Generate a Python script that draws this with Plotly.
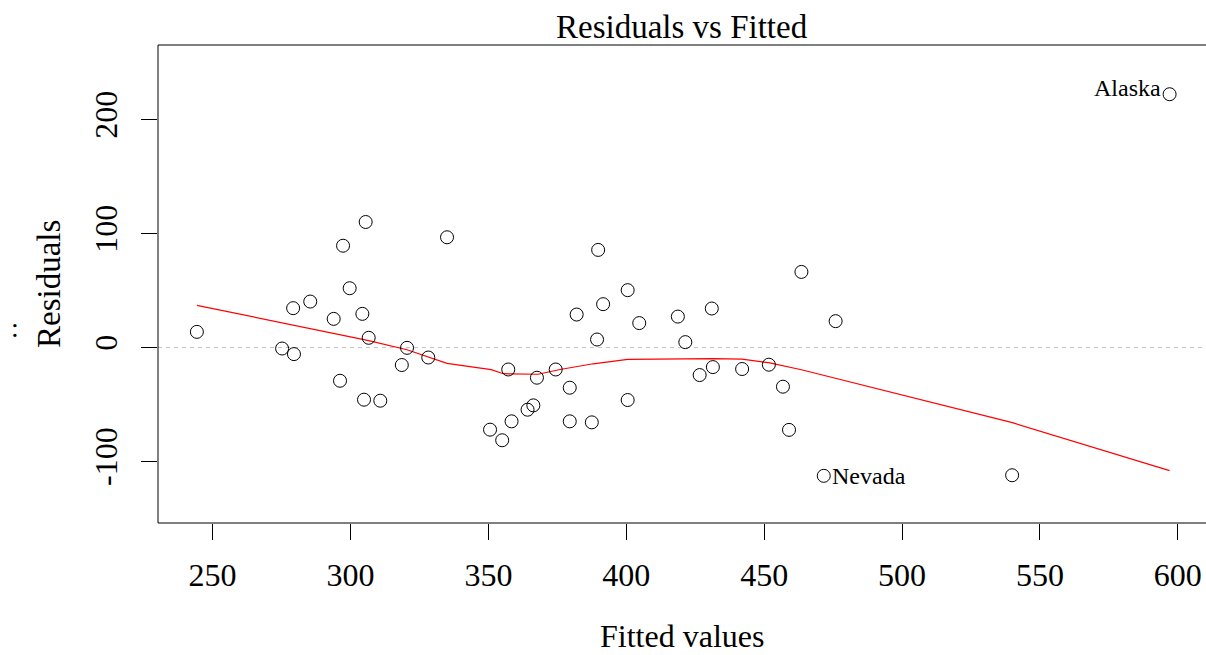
import plotly.graph_objects as go

# Fitted values and residuals of the linear model (one per state)
fitted = [244.3, 275.2, 279.5, 279.2, 285.4, 293.9, 297.3, 296.2, 299.7, 305.5,
          304.3, 306.6, 304.9, 310.8, 335.0, 320.5, 318.6, 328.2, 350.6, 355.0,
          358.4, 357.2, 364.2, 366.3, 367.6, 374.4, 379.5, 379.5, 382.0, 387.5,
          389.8, 389.4, 391.6, 400.5, 400.5, 404.7, 418.7, 421.4, 426.6, 431.0,
          431.4, 442.0, 451.7, 456.8, 459.0, 463.5, 475.9, 471.6, 539.9, 597.0]
residuals = [13.7, -0.9, -5.8, 34.5, 40.3, 25.1, 89.3, -29.2, 52.0, 110.1,
             29.5, 8.5, -45.8, -46.7, 96.7, -0.3, -15.4, -8.8, -72.1, -81.4,
             -64.8, -19.3, -54.6, -50.8, -26.5, -19.3, -35.3, -64.8, 28.9, -65.7,
             85.6, 7.0, 38.0, 50.3, -46.1, 21.4, 27.1, 4.7, -24.2, 34.2,
             -17.2, -18.9, -15.1, -34.4, -72.3, 66.3, 23.1, -112.6, -112.1, 222.2]

# Lowess smoother through the residuals
smooth_x = [244.3, 306.6, 320.5, 335.0, 351.0, 355.4, 368.0, 376.0, 388.0,
            400.5, 431.4, 442.0, 452.0, 463.5, 540.0, 597.0]
smooth_y = [37.0, 6.0, -2.0, -14.0, -19.5, -23.0, -23.5, -19.3, -14.3,
            -10.5, -9.8, -10.3, -13.5, -19.5, -66.0, -108.0]

# Labelled outliers
alaska = (597.0, 222.2)
nevada = (471.6, -112.6)

x_ticks = [250, 300, 350, 400, 450, 500, 550, 600]
y_ticks = [-100, 0, 100, 200]
y_tick_text = ["-100", "0", "100", "200"]

FONT = "Liberation Serif"

fig = go.Figure()

fig.add_hline(y=0, line=dict(color="#c4c4c4", width=1, dash="4px,4px"), layer="below")

fig.add_trace(go.Scatter(
    x=smooth_x, y=smooth_y, mode="lines",
    line=dict(color="#ff0000", width=1.2), hoverinfo="skip"))

fig.add_trace(go.Scatter(
    x=fitted, y=residuals, mode="markers",
    marker=dict(symbol="circle-open", size=13, color="black",
                line=dict(width=1, color="black"))))

fig.add_annotation(x=alaska[0], y=alaska[1], text="Alaska", showarrow=False,
                   xanchor="right", yanchor="middle", xshift=-7, yshift=6,
                   font=dict(family=FONT, size=24, color="black"))
fig.add_annotation(x=nevada[0], y=nevada[1], text="Nevada", showarrow=False,
                   xanchor="left", yanchor="middle", xshift=6, yshift=0,
                   font=dict(family=FONT, size=24, color="black"))

# Title and axis titles
fig.add_annotation(x=0.5, y=1.0377, xref="paper", yref="paper",
                   text="Residuals vs Fitted", showarrow=False,
                   xanchor="center", yanchor="middle",
                   font=dict(family=FONT, size=33, color="black"))
fig.add_annotation(x=0.5, y=-0.236, xref="paper", yref="paper",
                   text="Fitted values", showarrow=False,
                   xanchor="center", yanchor="middle",
                   font=dict(family=FONT, size=32, color="black"))
fig.add_annotation(x=-0.104, y=0.5, xref="paper", yref="paper",
                   text="Residuals", showarrow=False, textangle=-90,
                   xanchor="center", yanchor="middle",
                   font=dict(family=FONT, size=33, color="black"))
fig.add_annotation(x=-0.1365, y=0.408, xref="paper", yref="paper",
                   text=":", showarrow=False,
                   xanchor="center", yanchor="middle",
                   font=dict(family=FONT, size=28, color="black"))

# Plot frame (open on the right)
fig.add_shape(type="rect", xref="paper", yref="paper", x0=0, x1=1.01, y0=0, y1=1,
              line=dict(color="black", width=1), layer="above")

fig.update_layout(
    width=1206, height=655,
    margin=dict(l=158, r=0, t=45, b=132),
    paper_bgcolor="white", plot_bgcolor="white",
    showlegend=False,
    font=dict(family=FONT, color="black"),
    xaxis=dict(range=[230.2, 610.2], tickvals=x_ticks, ticks="outside",
               ticklen=16, tickcolor="black", tickwidth=1,
               showgrid=False, zeroline=False, showline=False,
               tickfont=dict(family=FONT, size=32), ticklabelstandoff=8),
    yaxis=dict(range=[-154.0, 265.4], tickvals=y_ticks, ticktext=y_tick_text,
               ticks="outside", ticklen=16, tickcolor="black", tickwidth=1,
               showgrid=False, zeroline=False, showline=False,
               tickangle=-90,
               tickfont=dict(family=FONT, size=32), ticklabelstandoff=11),
)

fig.write_html("out.html")
